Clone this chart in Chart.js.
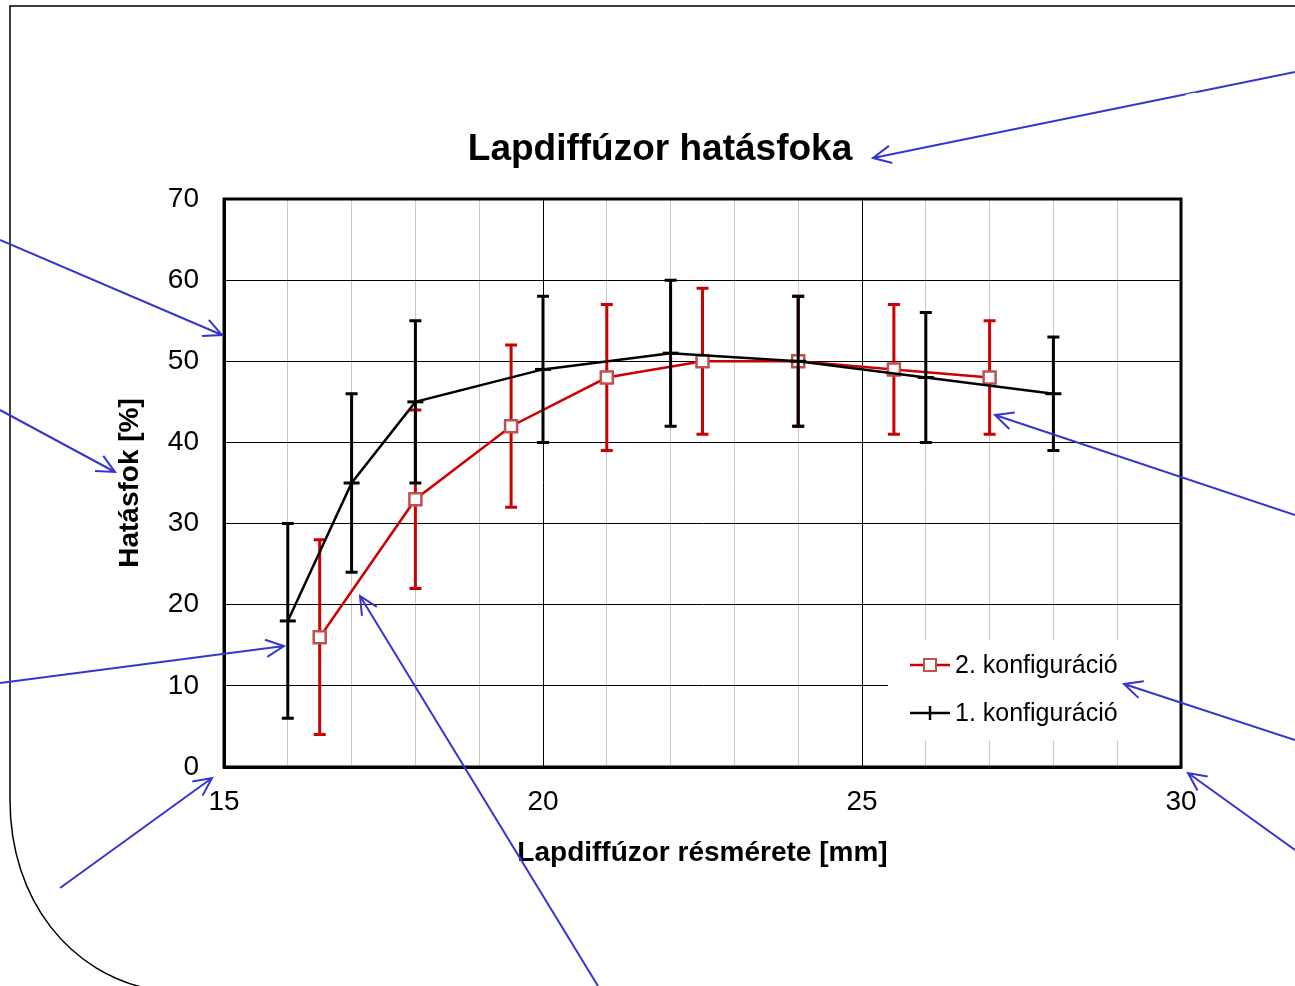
<!DOCTYPE html>
<html>
<head>
<meta charset="utf-8">
<script src="https://cdn.jsdelivr.net/npm/chart.js@4/dist/chart.umd.min.js"></script>
<style>
  body { margin: 0; background: #fff; }
  #wrap { width: 1295px; height: 986px; }
</style>
</head>
<body>
<div id="wrap"><canvas id="effChart" width="1295" height="986"></canvas></div>
<script>
// 2. konfiguráció (red)
const redX = [16.5, 18, 19.5, 21, 22.5, 24, 25.5, 27];
const redY = [16, 33, 42, 48, 50, 50, 49, 48];
const redLow = [4, 22, 32, 39, 41, 42, 41, 41];
const redHigh = [28, 44, 52, 57, 59, 58, 57, 55];

// 1. konfiguráció (black)
const blackX = [16, 17, 18, 20, 22, 24, 26, 28];
const blackY = [18, 35, 45, 49, 51, 50, 48, 46];
const blackLow = [6, 24, 35, 40, 42, 42, 40, 39];
const blackHigh = [30, 46, 55, 58, 60, 58, 56, 53];

const xTicks = [15, 20, 25, 30];
const yTicks = [0, 10, 20, 30, 40, 50, 60, 70];

const FONT = '"Liberation Sans", Arial, sans-serif';

function pts(xs, ys) {
    return xs.map((x, i) => ({ x: x, y: ys[i] }));
}

// error bars, drawn right before each dataset so its line sits on top
const errorBars = {
    id: 'errorBars',
    beforeDatasetDraw(chart, args) {
        const ds = chart.data.datasets[args.index];
        if (!ds.errLow) return;
        const ctx = chart.ctx;
        const xs = chart.scales.x, ys = chart.scales.y;
        ctx.save();
        ctx.strokeStyle = ds.borderColor;
        ctx.lineWidth = 3;
        ds.data.forEach((p, i) => {
            const px = xs.getPixelForValue(p.x);
            const lo = ys.getPixelForValue(ds.errLow[i]);
            const hi = ys.getPixelForValue(ds.errHigh[i]);
            ctx.beginPath();
            ctx.moveTo(px, lo); ctx.lineTo(px, hi);
            ctx.moveTo(px - 6, lo); ctx.lineTo(px + 6, lo);
            ctx.moveTo(px - 6, hi); ctx.lineTo(px + 6, hi);
            ctx.stroke();
        });
        ctx.restore();
    }
};

// frame, legend box, title and the slide decorations
const extras = {
    id: 'extras',
    beforeDatasetsDraw(chart) {
        const ctx = chart.ctx;
        const a = chart.chartArea;
        // legend box over the grid
        ctx.save();
        ctx.fillStyle = '#fff';
        ctx.fillRect(888, 640, a.right - 888 - 1, 100);
        ctx.restore();
    },
    afterDatasetsDraw(chart) {
        const ctx = chart.ctx;
        const a = chart.chartArea;
        ctx.save();
        ctx.strokeStyle = '#000';
        ctx.lineWidth = 3;
        ctx.strokeRect(a.left, a.top, a.right - a.left, a.bottom - a.top);

        // legend
        ctx.font = '25px ' + FONT;
        ctx.textBaseline = 'middle';
        ctx.fillStyle = '#000';
        const items = [chart.data.datasets[0], chart.data.datasets[1]];
        items.forEach((ds, i) => {
            const y = 665 + i * 48;
            ctx.strokeStyle = ds.borderColor;
            ctx.lineWidth = 2.5;
            ctx.beginPath(); ctx.moveTo(910, y); ctx.lineTo(950, y); ctx.stroke();
            if (ds.pointStyle === 'rect') {
                ctx.fillStyle = '#fff';
                ctx.strokeStyle = ds.pointBorderColor;
                ctx.lineWidth = 2;
                ctx.fillRect(924, y - 6, 12, 12);
                ctx.strokeRect(924, y - 6, 12, 12);
            } else {
                ctx.lineWidth = 2.5;
                ctx.beginPath(); ctx.moveTo(930, y - 7); ctx.lineTo(930, y + 7); ctx.stroke();
            }
            ctx.fillStyle = '#000';
            ctx.textAlign = 'left';
            ctx.fillText(ds.label, 955, y + 1);
        });

        // chart title
        ctx.font = 'bold 37px ' + FONT;
        ctx.textAlign = 'center';
        ctx.fillText('Lapdiffúzor hatásfoka', 660, 150);

        // slide frame
        ctx.strokeStyle = '#000';
        ctx.lineWidth = 1.5;
        ctx.beginPath();
        ctx.moveTo(1295, 6);
        ctx.lineTo(10, 6);
        ctx.lineTo(10, 800);
        ctx.bezierCurveTo(10, 900, 70, 975, 155, 990);
        ctx.stroke();

        // blue annotation arrows
        const arrows = [
            [1295, 72, 873, 158],
            [0, 240, 222, 335],
            [0, 410, 115, 472],
            [0, 683, 284, 646],
            [60, 888, 212, 778],
            [598, 986, 360, 596],
            [1295, 515, 995, 415],
            [1295, 740, 1124, 684],
            [1295, 850, 1188, 773]
        ];
        ctx.strokeStyle = '#3535d0';
        ctx.lineWidth = 2;
        arrows.forEach(([x1, y1, x2, y2]) => {
            const ang = Math.atan2(y2 - y1, x2 - x1);
            ctx.beginPath();
            ctx.moveTo(x1, y1); ctx.lineTo(x2, y2);
            ctx.moveTo(x2 - 20 * Math.cos(ang - 0.45), y2 - 20 * Math.sin(ang - 0.45));
            ctx.lineTo(x2, y2);
            ctx.lineTo(x2 - 20 * Math.cos(ang + 0.45), y2 - 20 * Math.sin(ang + 0.45));
            ctx.stroke();
        });
        // small break in the top arrow
        ctx.strokeStyle = '#fff';
        ctx.lineWidth = 3;
        ctx.beginPath(); ctx.moveTo(1186, 96); ctx.lineTo(1196, 94); ctx.stroke();
        ctx.restore();
    }
};

const config = {
    type: 'line',
    data: {
        datasets: [{
            label: '2. konfiguráció',
            data: pts(redX, redY),
            errLow: redLow,
            errHigh: redHigh,
            borderColor: '#cc0000',
            borderWidth: 2.5,
            pointStyle: 'rect',
            pointRadius: 8.5,
            pointBorderWidth: 2.5,
            pointBorderColor: '#c0504d',
            pointBackgroundColor: '#fff',
            tension: 0,
            order: 1
        }, {
            label: '1. konfiguráció',
            data: pts(blackX, blackY),
            errLow: blackLow,
            errHigh: blackHigh,
            borderColor: '#000',
            borderWidth: 2.5,
            pointStyle: 'line',
            pointRadius: 8,
            pointBorderWidth: 3,
            pointBorderColor: '#000',
            tension: 0,
            order: 0
        }]
    },
    options: {
        responsive: false,
        animation: false,
        devicePixelRatio: 1,
        layout: { padding: { left: 0, right: 114, top: 199, bottom: 0 } },
        plugins: {
            legend: { display: false },
            title: { display: false },
            tooltip: { enabled: false }
        },
        scales: {
            x: {
                type: 'linear',
                min: 15,
                max: 30,
                afterFit(scale) { scale.height = 219; },
                afterBuildTicks(scale) {
                    scale.ticks = [];
                    for (let v = 15; v <= 30; v++) scale.ticks.push({ value: v });
                },
                ticks: {
                    autoSkip: false,
                    maxRotation: 0,
                    padding: 18,
                    color: '#000',
                    font: { family: FONT, size: 28 },
                    callback: v => xTicks.includes(v) ? String(v) : ''
                },
                grid: {
                    drawTicks: false,
                    lineWidth: 1,
                    color: c => xTicks.includes(c.tick.value) ? '#000' : '#c8c8c8'
                },
                border: { display: true, color: '#000', width: 3 },
                title: {
                    display: true,
                    text: 'Lapdiffúzor résmérete [mm]',
                    color: '#000',
                    font: { family: FONT, size: 28, weight: 'bold' },
                    padding: { top: 0, bottom: 116 }
                }
            },
            y: {
                type: 'linear',
                min: 0,
                max: 70,
                afterFit(scale) { scale.width = 224; },
                afterBuildTicks(scale) {
                    scale.ticks = yTicks.map(v => ({ value: v }));
                },
                ticks: {
                    padding: 25,
                    color: '#000',
                    font: { family: FONT, size: 28 }
                },
                grid: { drawTicks: false, lineWidth: 1, color: '#000' },
                border: { display: true, color: '#000', width: 3 },
                title: {
                    display: true,
                    text: 'Hatásfok [%]',
                    color: '#000',
                    font: { family: FONT, size: 28, weight: 'bold' },
                    padding: { top: 113, bottom: 0 }
                }
            }
        }
    },
    plugins: [errorBars, extras]
};

const effChart = new Chart(document.getElementById('effChart').getContext('2d'), config);
</script>
</body>
</html>
